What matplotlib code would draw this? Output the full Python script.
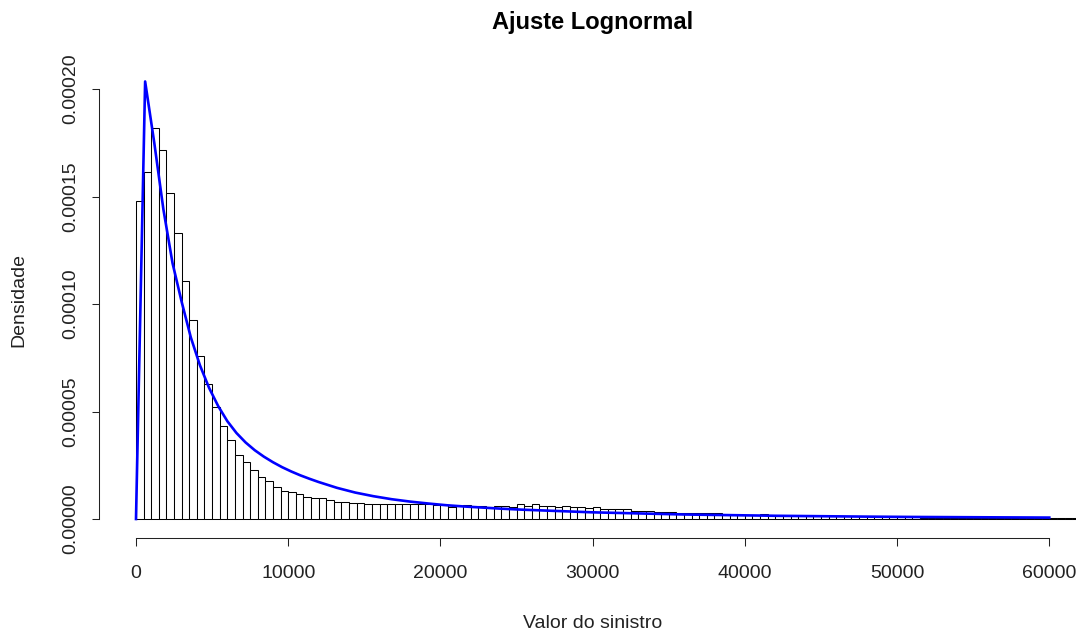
import matplotlib
matplotlib.use("Agg")
import matplotlib.pyplot as plt
import numpy as np

plt.rcParams['font.family'] = ['Liberation Sans', 'DejaVu Sans']

# ---- data ----
bin_width = 500
hist_heights = [
    0.000148, 0.0001615, 0.000182, 0.0001716, 0.0001516, 0.000133, 0.0001107, 0.0000925,
    0.000076, 0.0000626, 0.000052, 0.0000434, 0.0000367, 0.0000298, 0.0000263, 0.0000228,
    0.0000197, 0.0000178, 0.000015, 0.0000132, 0.0000127, 0.0000115, 0.0000104, 0.0000099,
    0.0000098, 0.0000087, 0.000008, 0.000008, 0.0000076, 0.0000075,
    # 15000 - 21500
    0.0000068, 0.0000068, 0.0000068, 0.0000068, 0.0000068, 0.0000068, 0.0000072, 0.0000068,
    0.0000068, 0.0000063, 0.0000063, 0.0000058, 0.0000060, 0.0000063,
    # 22000 - 30000
    0.0000061, 0.0000061, 0.0000055, 0.0000061, 0.0000061, 0.0000055, 0.0000072, 0.0000061,
    0.0000072, 0.0000062, 0.0000062, 0.0000055, 0.0000062, 0.0000055, 0.0000055, 0.0000051,
    0.0000058,
    # 30500 - 41000
    0.0000048, 0.0000047, 0.0000047, 0.0000047, 0.0000039, 0.0000039, 0.0000039, 0.0000031,
    0.0000031, 0.0000031, 0.0000028, 0.0000028, 0.0000028, 0.0000028, 0.0000028, 0.0000028,
    0.0000020, 0.0000020, 0.0000020, 0.0000020, 0.0000020, 0.0000023,
    # 41500 - 51000
    0.0000012, 0.0000012, 0.0000012, 0.0000012, 0.0000012, 0.0000012, 0.0000012, 0.0000012,
    0.0000012, 0.0000012, 0.0000012, 0.0000012, 0.0000012, 0.0000012, 0.0000012, 0.0000012,
    0.0000012, 0.0000012, 0.0000012, 0.0000012,
    # 51500 - 63500
    0.0000004, 0.0000004, 0.0000004, 0.0000004, 0.0000004, 0.0000004, 0.0000004, 0.0000004,
    0.0000004, 0.0000004, 0.0000004, 0.0000004, 0.0000004, 0.0000004, 0.0000004, 0.0000004,
    0.0000004, 0.0000004, 0.0000004, 0.0000004, 0.0000004, 0.0000004, 0.0000004, 0.0000004,
    0.0000004,
]

curve_x = [0, 600, 1200, 1800, 2400, 3000, 3600, 4200, 4800, 5400, 6000, 6600, 7200, 7800,
           8400, 9000, 9600, 10200, 10800, 11400, 12000, 13200, 14400, 15600, 16800, 18000,
           19200, 20400, 21600, 22800, 24000, 25500, 27000, 28500, 30000, 33000, 36000,
           39000, 42000, 45000, 48000, 51000, 54000, 57000, 60000]
curve_y = [0.0, 0.0002035, 0.000175, 0.000144, 0.000119, 0.000101, 0.0000845, 0.0000715,
           0.000061, 0.0000525, 0.0000455, 0.0000400, 0.0000356, 0.0000320, 0.0000290,
           0.0000264, 0.0000241, 0.0000221, 0.0000203, 0.0000187, 0.0000172, 0.0000145,
           0.0000123, 0.0000106, 0.0000092, 0.0000081, 0.0000072, 0.0000064, 0.0000058,
           0.0000053, 0.0000048, 0.0000043, 0.0000039, 0.0000035, 0.0000031, 0.0000026,
           0.0000021, 0.0000018, 0.0000015, 0.0000013, 0.0000011, 0.00000095, 0.00000085,
           0.00000075, 0.00000066]

x_ticks = [0, 10000, 20000, 30000, 40000, 50000, 60000]
x_tick_labels = ["0", "10000", "20000", "30000", "40000", "50000", "60000"]
y_ticks = [0.0, 0.00005, 0.0001, 0.00015, 0.0002]
y_tick_labels = ["0.00000", "0.00005", "0.00010", "0.00015", "0.00020"]

title = "Ajuste Lognormal"
xlabel = "Valor do sinistro"
ylabel = "Densidade"

# ---- figure ----
W, H = 1076, 632
fig = plt.figure(figsize=(W / 100, H / 100), dpi=100)

left_px, right_px, bottom_px, top_px = 99.3, 1076, 537.7, 63
ax = fig.add_axes([left_px / W, 1 - bottom_px / H,
                   (right_px - left_px) / W, (bottom_px - top_px) / H])

px_per_x = 913.3 / 60000.0
px_per_y = 430.0 / 0.0002
ax.set_xlim(-(136 - left_px) / px_per_x, (right_px - 136) / px_per_x)
ax.set_ylim(-(bottom_px - 519) / px_per_y, (519 - top_px) / px_per_y)

lefts = np.arange(len(hist_heights)) * bin_width
ax.bar(lefts, hist_heights, width=bin_width, align='edge', color='white',
       edgecolor='black', linewidth=0.75, zorder=2)

ax.plot(curve_x, curve_y, color='#0000FF', linewidth=1.9, zorder=3,
        solid_joinstyle='round')

for s in ['top', 'right']:
    ax.spines[s].set_visible(False)
ax.spines['left'].set_bounds(0, 0.0002)
ax.spines['bottom'].set_bounds(0, 60000)
for s in ['left', 'bottom']:
    ax.spines[s].set_linewidth(0.75)
    ax.spines[s].set_color('#222222')

ax.set_xticks(x_ticks)
ax.set_xticklabels(x_tick_labels)
ax.set_yticks(y_ticks)
ax.set_yticklabels(y_tick_labels, rotation=90, va='center')
ax.tick_params(axis='both', length=5.4, width=0.75, color='#222222',
               labelsize=14, labelcolor='#222222')
ax.tick_params(axis='x', pad=14)
ax.tick_params(axis='y', pad=9)

cx = (99.5 + 1085.5) / 2
fig.text(cx / W, 1 - 22 / H, title, ha='center', va='center',
         fontsize=17, fontweight='bold', color='black')
fig.text(cx / W, 1 - 623 / H, xlabel, ha='center', va='center',
         fontsize=14, color='#222222')
fig.text(19 / W, 1 - 300 / H, ylabel, ha='center', va='center',
         rotation=90, fontsize=14, color='#222222')

fig.savefig("out.png", dpi=100)
